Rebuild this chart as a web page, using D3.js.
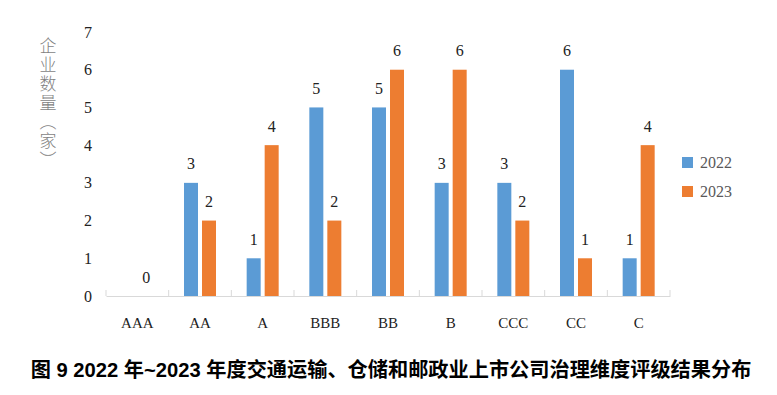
<!DOCTYPE html>
<html>
<head>
<meta charset="utf-8">
<script src="https://cdn.jsdelivr.net/npm/d3@7"></script>
<style>
  body { margin: 0; background: #fff; }
  svg { display: block; }
</style>
</head>
<body>
<svg id="viz"></svg>
<script>
// chart data
var categories = ['AAA', 'AA', 'A', 'BBB', 'BB', 'B', 'CCC', 'CC', 'C'];
var values2022 = [null, 3, 1, 5, 5, 3, 3, 6, 1];
var values2023 = [0, 2, 4, 2, 6, 6, 2, 1, 4];
var seriesNames = ['2022', '2023'];
var yTicks = [0, 1, 2, 3, 4, 5, 6, 7];
var yTitle = '企业数量（家）';
var caption = '图 9 2022 年~2023 年度交通运输、仓储和邮政业上市公司治理维度评级结果分布';

var colors = ['#5b9bd5', '#ed7d31'];
var width = 777, height = 395;
var margin = { top: 32, right: 107, bottom: 99, left: 106 };
var drawWidth = width - margin.left - margin.right;
var drawHeight = height - margin.top - margin.bottom;
var serif = '"Liberation Serif", "Times New Roman", serif';

var svg = d3.select('#viz').attr('width', width).attr('height', height);
var g = svg.append('g').attr('transform', `translate(${margin.left}, ${margin.top})`);

var xScale = d3.scaleBand().domain(categories).range([0, drawWidth]);
var yScale = d3.scaleLinear().domain([0, 7]).range([drawHeight, 0]);

// y tick labels (no axis line)
g.selectAll('.ytick').data(yTicks).enter().append('text')
  .attr('x', -14).attr('y', d => yScale(d))
  .attr('dy', '0.35em').attr('text-anchor', 'end')
  .style('font-family', serif).style('font-size', '16px').attr('fill', '#222')
  .text(d => d);

// x axis
var xAxis = d3.axisBottom(xScale).tickSize(6).tickSizeOuter(0).tickFormat('');
var ax = g.append('g').attr('transform', `translate(0, ${drawHeight})`).call(xAxis);
ax.select('.domain').attr('stroke', '#d9d9d9');
ax.selectAll('.tick').remove();
var bounds = categories.map(c => xScale(c)).concat([drawWidth]);
ax.selectAll('.sep').data(bounds).enter().append('line')
  .attr('x1', d => d).attr('x2', d => d).attr('y1', 0).attr('y2', -6)
  .attr('stroke', '#d9d9d9');
g.selectAll('.xlab').data(categories).enter().append('text')
  .attr('x', d => xScale(d) + xScale.bandwidth() / 2)
  .attr('y', drawHeight + 32)
  .attr('text-anchor', 'middle')
  .style('font-family', serif).style('font-size', '15px').attr('fill', '#222')
  .text(d => d);

// bars
var barW = 14, gap = 4;
var series = [values2022, values2023];
series.forEach(function (vals, i) {
  var off = i === 0 ? -gap / 2 - barW : gap / 2;
  var data = categories.map((c, j) => ({ c: c, v: vals[j] }));
  g.selectAll('.bar' + i).data(data.filter(d => d.v !== null)).enter().append('rect')
    .attr('x', d => xScale(d.c) + xScale.bandwidth() / 2 + off)
    .attr('y', d => yScale(d.v))
    .attr('width', barW)
    .attr('height', d => drawHeight - yScale(d.v))
    .attr('fill', colors[i]);
  g.selectAll('.lab' + i).data(data.filter(d => d.v !== null)).enter().append('text')
    .attr('x', d => xScale(d.c) + xScale.bandwidth() / 2 + off + barW / 2)
    .attr('y', d => yScale(d.v) - 19)
    .attr('dy', '0.35em').attr('text-anchor', 'middle')
    .style('font-family', serif).style('font-size', '16px').attr('fill', '#222')
    .text(d => d.v);
});

// y title, vertical writing
svg.append('text')
  .attr('x', 48).attr('y', 37)
  .style('writing-mode', 'vertical-rl')
  .style('font-family', '"Noto Sans CJK SC", sans-serif').style('font-size', '17px')
  .style('letter-spacing', '2px')
  .style('font-weight', 300).attr('fill', '#7f7f7f')
  .text(yTitle);

// legend
var legend = svg.append('g').attr('transform', 'translate(682, 157)');
seriesNames.forEach(function (n, i) {
  legend.append('rect').attr('x', 0).attr('y', i * 29).attr('width', 11).attr('height', 11).attr('fill', colors[i]);
  legend.append('text').attr('x', 18).attr('y', i * 29 + 5.5).attr('dy', '0.35em')
    .style('font-family', serif).style('font-size', '16px').attr('fill', '#595959').text(n);
});

// caption
svg.append('text').attr('x', 391).attr('y', 370).attr('dy', '0.35em').attr('text-anchor', 'middle')
  .style('font-family', '"Liberation Sans", "Noto Sans CJK SC", sans-serif')
  .style('font-size', '20.2px').style('font-weight', 'bold').attr('fill', '#000')
  .text(caption);
</script>
</body>
</html>
